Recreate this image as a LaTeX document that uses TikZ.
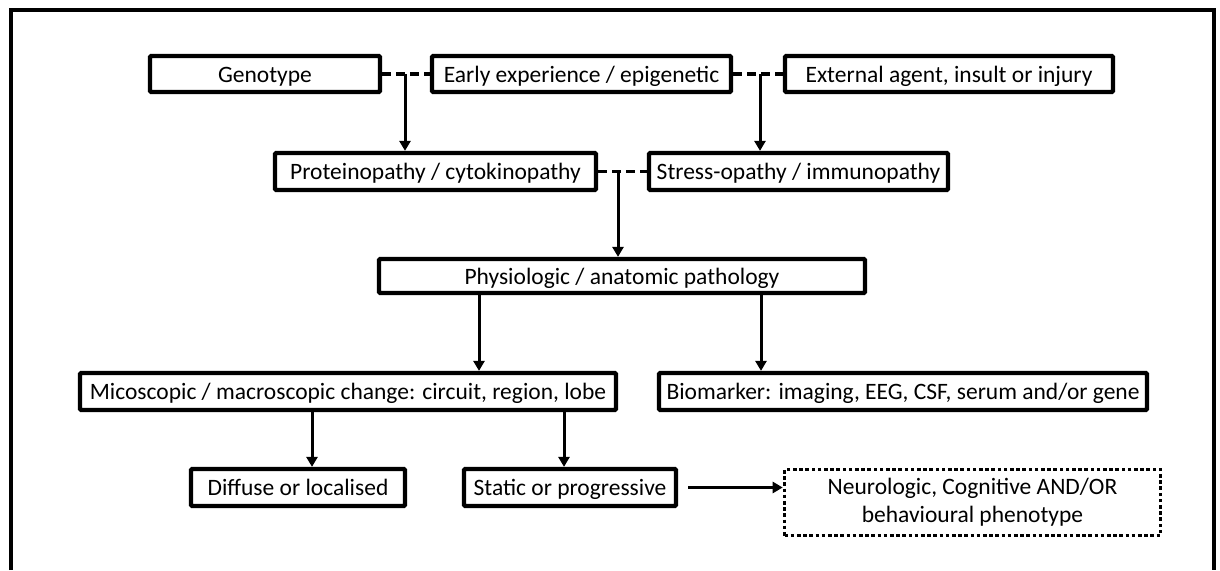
\documentclass[tikz,border=0pt]{standalone}
\usepackage{fontspec}
\setmainfont{Carlito}
\usetikzlibrary{arrows.meta}
\begin{document}
\begin{tikzpicture}[x=1pt,y=-1pt,
  every node/.style={font=\fontsize{23.5}{28}\selectfont},
  stepbox/.style={draw, line width=4.2pt, inner sep=0pt, align=center, rounded corners=1pt,
    text height=18pt, text depth=2pt},
  phenobox/.style={draw, line width=3.6pt, inner sep=0pt, align=center, dash pattern=on 3.6pt off 2.6pt},
  link/.style={line width=3.4pt, dash pattern=on 9pt off 5pt},
  flow/.style={line width=3pt, -{Triangle[length=10pt,width=11pt]}}]
  \useasboundingbox (0,0) rectangle (1220,570);
  % open outer frame
  \draw[line width=4.5pt] (11,570) -- (11,10) -- (1214,10) -- (1214,570);

  % top row
  \node[stepbox, minimum width=230pt, minimum height=36pt] (geno) at (265,74) {Genotype};
  \node[stepbox, minimum width=299pt, minimum height=36pt] (early) at (581.5,74) {Early experience / epigenetic};
  \node[stepbox, minimum width=328pt, minimum height=36pt] (ext) at (949,74) {External agent, insult or injury};

  % second row
  \node[stepbox, minimum width=321pt, minimum height=37pt] (prot) at (435.5,171.5) {Proteinopathy / cytokinopathy};
  \node[stepbox, minimum width=299pt, minimum height=37pt] (stress) at (798.5,171.5) {Stress-opathy / immunopathy};

  % pathology
  \node[stepbox, minimum width=486pt, minimum height=34pt] (phys) at (622,276) {Physiologic / anatomic pathology};

  % change and biomarker
  \node[stepbox, minimum width=536pt, minimum height=37pt] (micro) at (348,391.5) {Micoscopic / macroscopic change: circuit, region, lobe};
  \node[stepbox, minimum width=488pt, minimum height=37pt] (bio) at (903,391.5) {Biomarker: imaging, EEG, CSF, serum and/or gene};

  % bottom row
  \node[stepbox, minimum width=214pt, minimum height=37pt] (diff) at (298,487.5) {Diffuse or localised};
  \node[stepbox, minimum width=212pt, minimum height=37pt] (stat) at (570,487.5) {Static or progressive};
  \node[phenobox, minimum width=376pt, minimum height=66pt] (pheno) at (972.5,502.5) {Neurologic, Cognitive AND/OR\\behavioural phenotype};

  % dashed links between interacting factors
  \draw[link] (geno.east) -- (early.west);
  \draw[link] (early.east) -- (ext.west);
  \draw[link] (prot.east) -- (stress.west);
  \coordinate (j1) at (405,74);
  \coordinate (j2) at (760,74);
  \coordinate (j3) at (618,171.5);
  \coordinate (s1) at ([xshift=10pt]stat.east);

  % causal flow
  \draw[flow] (j1) -- (j1 |- prot.north);
  \draw[flow] (j2) -- (j2 |- stress.north);
  \draw[flow] (j3) -- (j3 |- phys.north);
  \draw[flow] (479,0 |- phys.south) -- (479,0 |- micro.north);
  \draw[flow] (761,0 |- phys.south) -- (761,0 |- bio.north);
  \draw[flow] (312,0 |- micro.south) -- (312,0 |- diff.north);
  \draw[flow] (564,0 |- micro.south) -- (564,0 |- stat.north);
  \draw[flow] (s1) -- (pheno.west |- s1);
\end{tikzpicture}
\end{document}
